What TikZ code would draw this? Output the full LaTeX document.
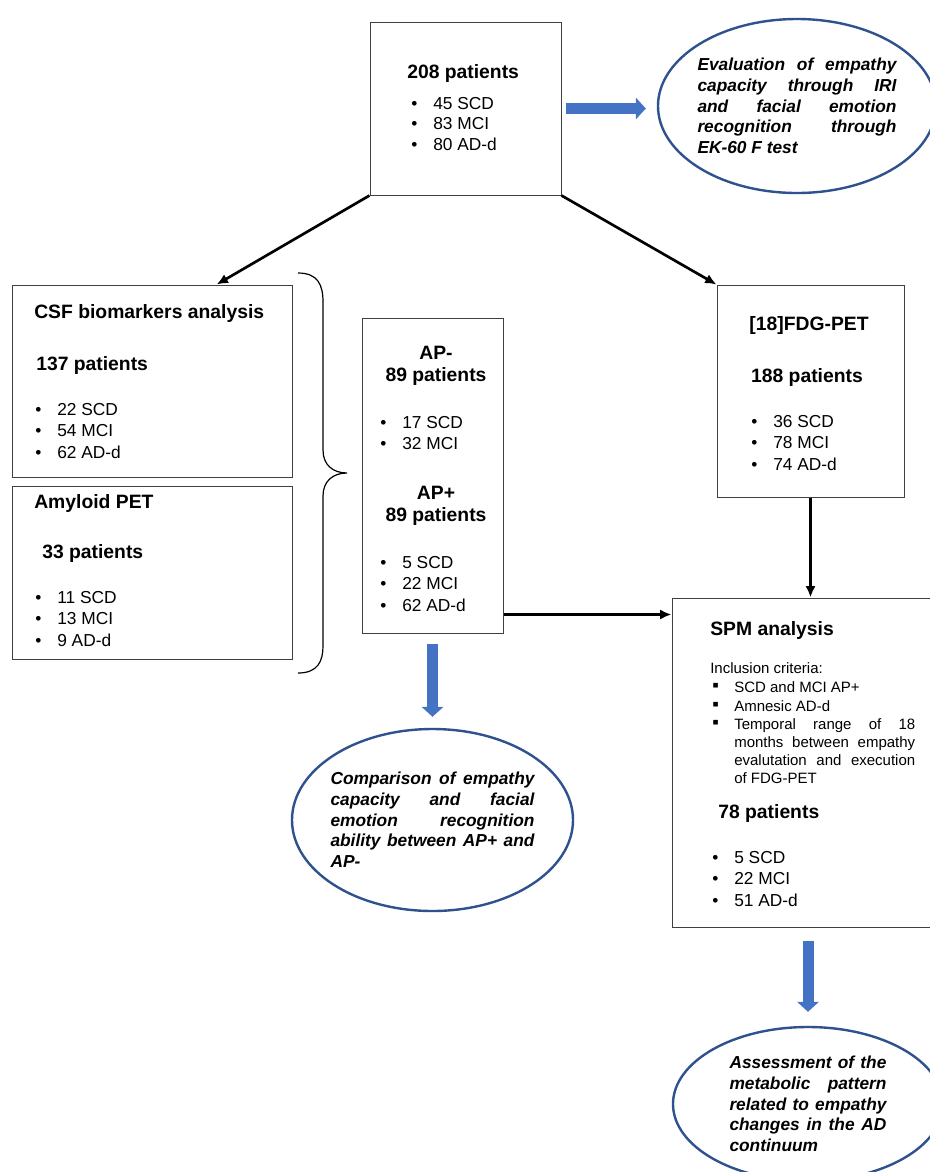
\documentclass[tikz,border=0pt]{standalone}
\usepackage{fontspec}
\setmainfont{Liberation Sans}
\usepackage{xcolor}
\usepackage{tikz}
\usetikzlibrary{arrows.meta,positioning,calc,shapes.geometric}
\definecolor{fillblue}{RGB}{68,114,196}
\definecolor{lineblue}{RGB}{47,82,143}

\begin{document}
\begin{tikzpicture}[x=0.75pt,y=-0.75pt,>={Latex[length=8.5pt,width=7.5pt]}]
\tikzstyle{box}=[draw=black!75,line width=0.75pt,inner sep=0pt]
\tikzstyle{oval}=[ellipse,draw=lineblue,line width=1.8pt,fill=white,inner sep=0pt,inner xsep=-4pt,align=justify,font=\fontsize{13}{15.5}\selectfont\bfseries\itshape]
\tikzstyle{head}=[inner sep=0pt,font=\fontsize{14.5}{16.5}\selectfont\bfseries]
\tikzstyle{item}=[anchor=west,inner sep=0pt,font=\fontsize{13}{15.6}\selectfont,execute at begin node={\makebox[16.5pt][l]{\textbullet}}]
\tikzstyle{small}=[inner sep=0pt,font=\fontsize{11.25}{13.5}\selectfont]
\tikzstyle{link}=[->,line width=2pt]
\tikzstyle{fat}=[-{Triangle[length=7.5pt,width=16pt]},line width=8.25pt,draw=fillblue]
\path[use as bounding box,fill=white] (0,0) rectangle (930,1172);

% boxes
\node[box,minimum width=143.25pt,minimum height=129.75pt] (all) at (465.5,108.5) {};
\node[box,minimum width=210pt,minimum height=144pt] (csf) at (152,381) {};
\node[box,minimum width=210pt,minimum height=129.75pt,below=6pt of csf] (amy) {};
\node[box,minimum width=105.75pt,minimum height=236.25pt] (ap) at (432.5,475.5) {};
\node[box,minimum width=140.25pt,minimum height=159pt] (fdg) at (810.5,391) {};
\node[box,minimum width=198pt,minimum height=246.75pt] (spm) at (804,762.5) {};

% ovals
\node[oval,text width=149.25pt,minimum width=208.5pt,minimum height=130.5pt] (eval) at (797,106)
  {Evaluation of empathy\linebreak capacity through IRI\linebreak and facial emotion\linebreak recognition through\linebreak EK-60 F test};
\node[oval,text width=153pt,minimum width=210.75pt,minimum height=136.5pt] (cmp) at (432.5,820)
  {Comparison of empathy\linebreak capacity and facial\linebreak emotion recognition\linebreak ability between AP+ and\linebreak AP-};
\node[oval,text width=117.75pt,minimum width=202.5pt,minimum height=115.5pt] (ass) at (808,1104)
  {Assessment of the\linebreak metabolic pattern\linebreak related to empathy\linebreak changes in the AD\linebreak continuum};

% texts
\node[head,anchor=west] (allhd) at (407,73) {208 patients};
\foreach \t [count=\i] in {45 SCD,83 MCI,80 AD-d} \node[item] (all\i) at (411,84+20*\i) {\t};

\node[head,anchor=west] (csfhd) at (34,313) {CSF biomarkers analysis};
\node[head,anchor=west] (csfn) at (36,365) {137 patients};
\foreach \t [count=\i] in {22 SCD,54 MCI,62 AD-d} \node[item] (csf\i) at (35,389+21*\i) {\t};

\node[head,anchor=west] (amyhd) at (34,503) {Amyloid PET};
\node[head,anchor=west] (amyn) at (42,553) {33 patients};
\foreach \t [count=\i] in {11 SCD,13 MCI,9 AD-d} \node[item] (amy\i) at (35,577+21*\i) {\t};

\node[head,align=center] (apneg) at (436,366) {AP-\\89 patients};
\foreach \t [count=\i] in {17 SCD,32 MCI} \node[item] (apneg\i) at (380,402+21*\i) {\t};
\node[head,align=center] (appos) at (436,505.5) {AP+\\89 patients};
\foreach \t [count=\i] in {5 SCD,22 MCI,62 AD-d} \node[item] (appos\i) at (380,542+21*\i) {\t};

\node[head] (fdghd) at (809,325) {[18]FDG-PET};
\node[head] (fdgn) at (807,377) {188 patients};
\foreach \t [count=\i] in {36 SCD,78 MCI,74 AD-d} \node[item] (fdg\i) at (751,401+21*\i) {\t};

\node[head,anchor=west] (spmhd) at (710,630) {SPM analysis};
\node[small,anchor=west] (crit) at (710,668) {Inclusion criteria:};
\foreach \y in {687,706,724} \node[small,anchor=west,font=\fontsize{14}{14}\selectfont] (sq\y) at (712,\y) {\symbol{"25AA}};
\node[small,anchor=west] (inc1) at (734,687) {SCD and MCI AP+};
\node[small,anchor=west] (inc2) at (734,706) {Amnesic AD-d};
\node[small,anchor=north west,text width=135.75pt,align=justify] (inc3) at (734,718)
  {Temporal range of 18\linebreak months between empathy\linebreak evalutation and execution\linebreak of FDG-PET};
\node[head,anchor=west] (spmn) at (718,813) {78 patients};
\foreach \t [count=\i] in {5 SCD,22 MCI,51 AD-d} \node[item] (spm\i) at (712,837+21*\i) {\t};

% brace
\draw[line width=0.9pt] (298,273) .. controls (318,273) and (323,285) .. (323,302) -- (323,450)
  .. controls (323,465) and (333,473) .. (347,473) .. controls (333,473) and (323,481) .. (323,496)
  -- (323,646) .. controls (323,661) and (318,673) .. (298,673);

% connectors
\coordinate (apout) at ([yshift=14.25pt]ap.south east);
\draw[link] (all.south west) -- ($(csf.north west)!.73!(csf.north east)$);
\draw[link] (all.south east) -- (fdg.north west);
\draw[link] (fdg.south) -- (fdg.south |- spm.north);
\draw[link] (apout) -- (apout -| spm.west);
\draw[fat,shorten <=3pt,shorten >=8.25pt] (all.east) -- (all.east -| eval.west);
\draw[fat,shorten <=7.5pt,shorten >=8.25pt] (ap.south) -- (cmp.north);
\draw[fat,shorten <=9.75pt,shorten >=10.5pt] (ass.north |- spm.south) -- (ass.north);
\end{tikzpicture}
\end{document}
